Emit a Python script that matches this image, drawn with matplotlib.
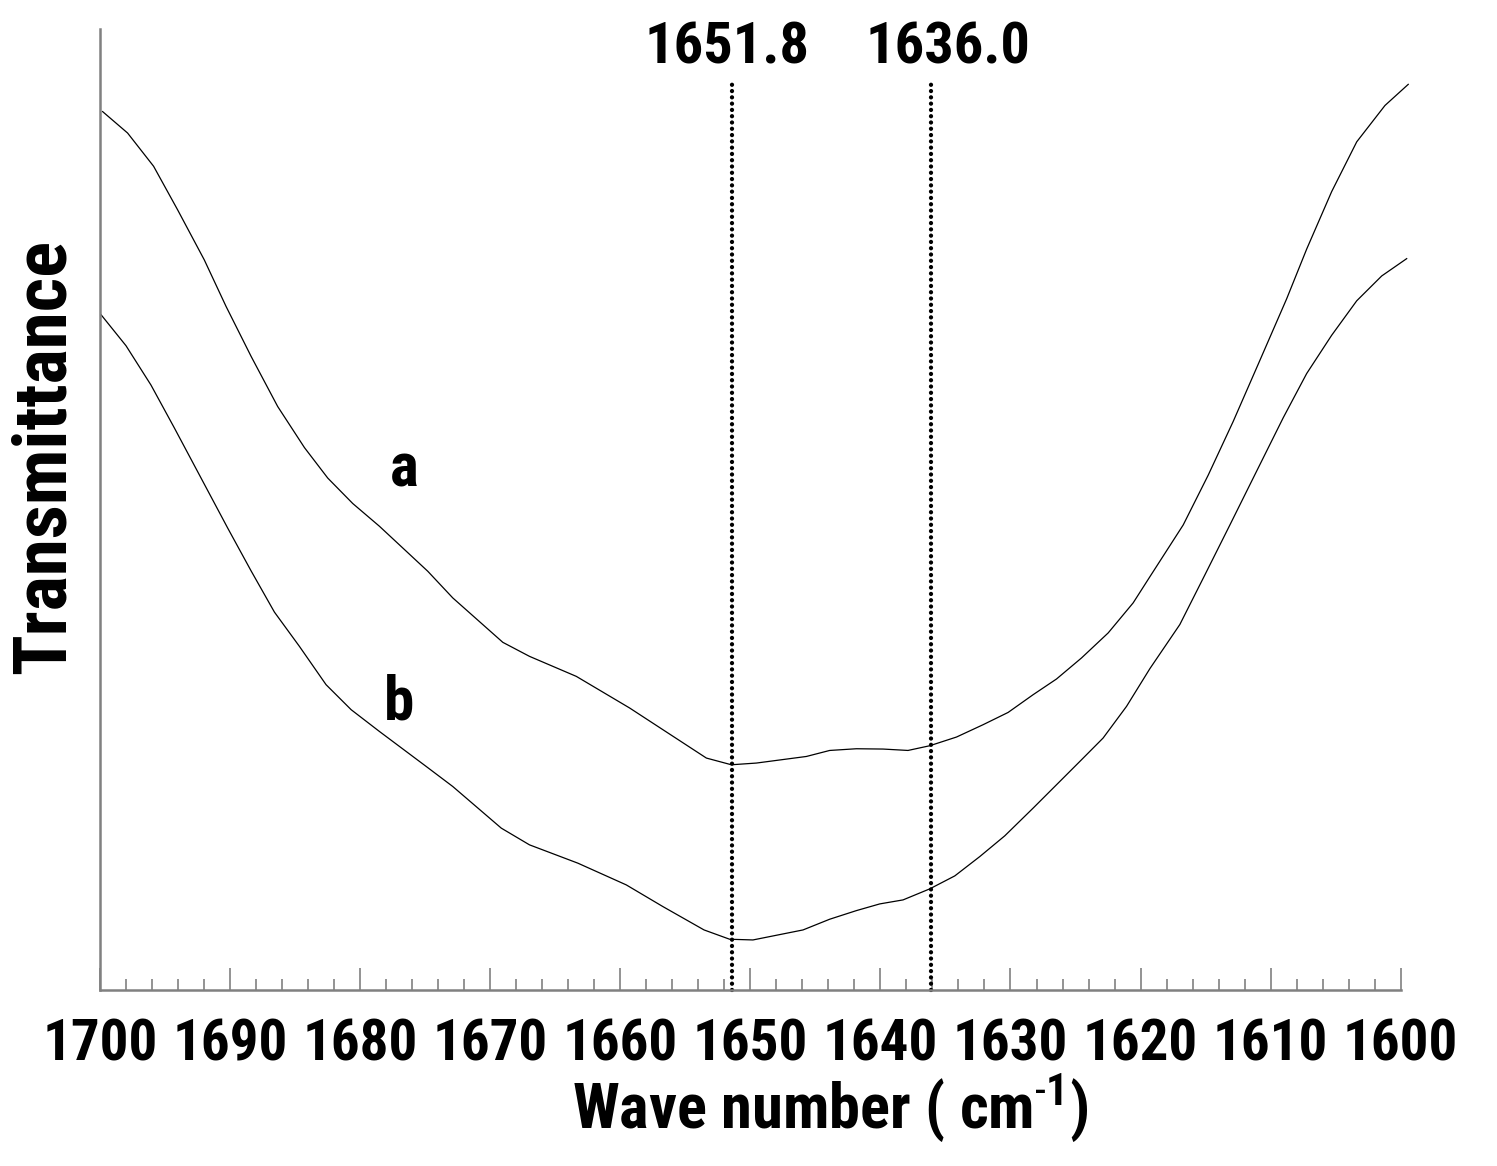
import matplotlib
matplotlib.use("Agg")
import matplotlib.pyplot as plt
from matplotlib import font_manager
from matplotlib.ticker import MultipleLocator

# ---------------- data ----------------
wn_a = [1699.80, 1697.88, 1695.88, 1694.03, 1691.98, 1690.31, 1688.38, 1686.34, 1684.28,
        1682.49, 1680.57, 1678.52, 1674.80, 1672.88, 1669.03, 1666.98, 1663.38, 1659.28,
        1653.38, 1651.46, 1649.54, 1645.69, 1643.90, 1641.85, 1639.80, 1637.88, 1636.21,
        1634.15, 1632.11, 1630.18, 1628.26, 1626.46, 1624.54, 1622.49, 1620.57, 1619.28,
        1616.72, 1614.80, 1612.88, 1610.95, 1608.77, 1607.23, 1605.31, 1603.38, 1601.21,
        1599.42]
t_a = [877.5, 856.1, 822.9, 779.3, 729.3, 682.9, 632.9, 582.9, 541.8,
       511.4, 486.0, 463.3, 418.3, 391.7, 347.3, 333.3, 313.3, 281.7,
       231.7, 225.0, 226.7, 233.3, 239.3, 241.0, 240.7, 239.3, 244.0,
       252.7, 265.0, 277.3, 295.0, 310.7, 331.7, 356.7, 386.7, 412.9,
       464.6, 514.3, 567.9, 625.3, 690.4, 740.1, 797.5, 847.3, 883.6,
       904.7]

wn_b = [1699.92, 1698.00, 1696.08, 1694.28, 1692.23, 1690.18, 1688.38, 1686.59, 1684.67,
        1682.62, 1680.69, 1678.52, 1674.92, 1672.88, 1669.15, 1666.98, 1663.26, 1659.54,
        1656.72, 1653.56, 1651.59, 1649.80, 1645.95, 1643.90, 1641.85, 1640.05, 1638.26,
        1636.21, 1634.28, 1632.36, 1630.44, 1628.26, 1626.21, 1624.54, 1622.88, 1621.08,
        1619.28, 1616.98, 1615.05, 1613.13, 1611.08, 1609.03, 1607.23, 1605.31, 1603.38,
        1601.46, 1599.54]
t_b = [674.6, 643.6, 604.3, 561.4, 511.4, 461.4, 418.6, 377.5, 343.3,
       305.0, 280.0, 258.3, 223.3, 203.3, 161.7, 145.0, 126.7, 105.0,
       83.3, 60.0, 50.7, 50.0, 60.0, 70.7, 79.3, 86.0, 90.0,
       101.0, 114.0, 133.3, 154.0, 181.7, 208.3, 230.0, 251.7, 283.3,
       321.1, 365.1, 414.8, 464.6, 518.2, 571.7, 615.8, 654.0, 688.5,
       713.3, 730.6]

peak_lines = [1651.4, 1636.1]
peak_labels = ["1651.8", "1636.0"]
peak_label_x = [1651.8, 1634.8]

curve_names = ["a", "b"]
curve_label_x = [1676.6, 1677.0]
curve_label_t = [520, 287]

# ---------------- fonts ----------------
fonts = font_manager.fontManager.ttflist
names = {f.name for f in fonts}
STRETCH = "normal"
FAM = None
for cand in ["Liberation Sans Narrow", "Arial Narrow", "Roboto Condensed",
             "Open Sans Condensed", "Noto Sans Condensed", "DejaVu Sans Condensed"]:
    if cand in names:
        FAM = cand
        break
if FAM is None:
    cond = [f for f in fonts if str(f.stretch) in ("condensed", "semi-condensed", "500", "375", "300")
            and f.name in ("Noto Sans", "Open Sans", "Roboto", "DejaVu Sans", "Inter")]
    if cond:
        FAM = cond[0].name
        STRETCH = cond[0].stretch
    else:
        FAM = "Liberation Sans"
SIZE = 41 if FAM != "Liberation Sans" else 38

plt.rcParams["font.family"] = [FAM, "DejaVu Sans"]
plt.rcParams["font.stretch"] = STRETCH
plt.rcParams["mathtext.fontset"] = "custom"
plt.rcParams["mathtext.rm"] = FAM
plt.rcParams["mathtext.bf"] = FAM + ":bold"

W, H = 1497, 1166
fig = plt.figure(figsize=(W / 100, H / 100), dpi=100)
ax = fig.add_axes([100 / W, (H - 990) / H, (1400.7 - 100) / W, (990 - 29) / H])

ax.plot(wn_a, t_a, color="black", lw=0.9, clip_on=False)
ax.plot(wn_b, t_b, color="black", lw=0.9, clip_on=False)

for x in peak_lines:
    ax.plot([x, x], [0, 905], color="black", lw=3.1,
            linestyle=(0, (0.01, 1.45)), dash_capstyle="round", clip_on=False)

for lx, lab in zip(peak_label_x, peak_labels):
    ax.text(lx, 941, lab, ha="center", va="center", fontsize=SIZE + 1,
            fontweight="bold", clip_on=False)

for lx, lt, nm in zip(curve_label_x, curve_label_t, curve_names):
    ax.text(lx, lt, nm, ha="center", va="center", fontsize=SIZE + 3, fontweight="bold")

ax.set_xlim(1700, 1600)
ax.set_ylim(0, 960)

ax.xaxis.set_major_locator(MultipleLocator(10))
ax.xaxis.set_minor_locator(MultipleLocator(2))
ax.tick_params(axis="x", which="major", direction="in", length=16, width=1.2,
               color="#808080", pad=20, labelsize=SIZE)
ax.tick_params(axis="x", which="minor", direction="in", length=8, width=1.2,
               color="#808080")
ax.set_xticks(range(1700, 1599, -10))
ax.set_xticklabels([str(v) for v in range(1700, 1599, -10)], fontweight="bold")
ax.set_yticks([])

for s in ["top", "right"]:
    ax.spines[s].set_visible(False)
for s in ["left", "bottom"]:
    ax.spines[s].set_color("#808080")
    ax.spines[s].set_linewidth(1.8)

fig.text(830 / W, 1 - 1108 / H, r"Wave number ( cm$^{\mathbf{\text{-}1}}$)", ha="center",
         va="center", fontsize=SIZE + 4, fontweight="bold")
fig.text(45 / W, 1 - 457 / H, "Transmittance", ha="center", va="center",
         rotation=90, fontsize=SIZE + 13, fontweight="bold")

fig.savefig("out.png", dpi=100)
